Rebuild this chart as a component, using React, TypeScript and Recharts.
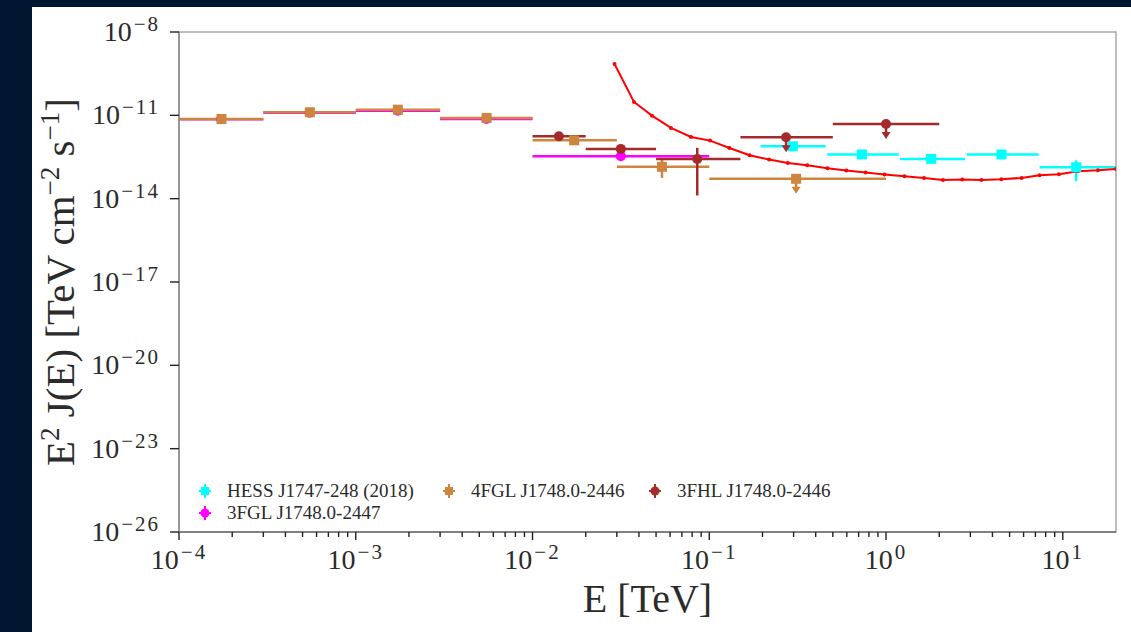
import {
  ScatterChart,
  Scatter,
  XAxis,
  YAxis,
  ErrorBar,
  ReferenceArea,
} from "recharts";

const serif = "'Liberation Serif', 'Times New Roman', serif";
const textColor = "#2b2b2b";

// HESS J1747-248 (2018)
const hessE = [0.297, 0.73, 1.8, 4.5, 11.9];
const hessELo = [0.195, 0.465, 1.2, 2.86, 7.4];
const hessEHi = [0.455, 1.18, 2.8, 7.3, 20];
const hessFlux = [7.7e-13, 3.9e-13, 2.7e-13, 3.9e-13, 1.35e-13];
const hessFluxLo = [7.7e-13, 3.9e-13, 2.7e-13, 3.9e-13, 4.3e-14];
const hessFluxHi = [7.7e-13, 3.9e-13, 2.7e-13, 3.9e-13, 2.4e-13];

// 4FGL J1748.0-2446
const fgl4E = [1.74e-4, 5.5e-4, 1.73e-3, 5.5e-3, 0.0172, 0.054, 0.31];
const fgl4ELo = [1e-4, 3e-4, 1e-3, 3e-3, 0.01, 0.03, 0.1];
const fgl4EHi = [3e-4, 1e-3, 3e-3, 0.01, 0.03, 0.1, 1.0];
const fgl4Flux = [7.4e-12, 1.29e-11, 1.6e-11, 8.1e-12, 1.26e-12, 1.4e-13, 5.2e-14];
const fgl4FluxLo = [7.4e-12, 1.29e-11, 1.6e-11, 8.1e-12, 1.26e-12, 5.6e-14, 5.2e-14];
const fgl4FluxHi = [7.4e-12, 1.29e-11, 1.6e-11, 8.1e-12, 1.26e-12, 2.6e-13, 5.2e-14];
const fgl4Ul = [false, false, false, false, false, false, true];

// 3FHL J1748.0-2446
const fhlE = [0.0141, 0.0316, 0.0855, 0.272, 1.0];
const fhlELo = [0.01, 0.02, 0.05, 0.15, 0.5];
const fhlEHi = [0.02, 0.05, 0.15, 0.5, 2.0];
const fhlFlux = [1.76e-12, 6.2e-13, 2.7e-13, 1.62e-12, 4.9e-12];
const fhlFluxLo = [1.76e-12, 6.2e-13, 1.3e-14, 1.62e-12, 4.9e-12];
const fhlFluxHi = [1.76e-12, 6.2e-13, 6.8e-13, 1.62e-12, 4.9e-12];
const fhlUl = [false, false, false, true, true];

// 3FGL J1748.0-2447
const fgl3E = [1.73e-4, 5.48e-4, 1.73e-3, 5.48e-3, 0.0316];
const fgl3ELo = [1e-4, 3e-4, 1e-3, 3e-3, 0.01];
const fgl3EHi = [3e-4, 1e-3, 3e-3, 0.01, 0.1];
const fgl3Flux = [7.2e-12, 1.25e-11, 1.47e-11, 7.45e-12, 3.4e-13];

// sensitivity curve
const sensE = [
  0.0291, 0.0375, 0.0474, 0.0607, 0.0788, 0.101, 0.13, 0.169, 0.218, 0.278,
  0.358, 0.466, 0.596, 0.766, 0.98, 1.27, 1.64, 2.1, 2.7, 3.46, 4.49, 5.84,
  7.39, 9.51, 12.2, 15.8, 20.0,
];
const sensFlux = [
  7.06e-10, 3.03e-11, 9.75e-12, 3.52e-12, 1.67e-12, 1.23e-12, 6.7e-13,
  3.64e-13, 2.55e-13, 1.94e-13, 1.59e-13, 1.24e-13, 1.03e-13, 8.7e-14, 7.4e-14,
  6.4e-14, 5.6e-14, 4.74e-14, 4.86e-14, 4.74e-14, 4.99e-14, 5.6e-14, 6.95e-14,
  7.55e-14, 9.7e-14, 1.05e-13, 1.18e-13,
];

const xMajor = [1e-4, 1e-3, 1e-2, 1e-1, 1, 10];
const xMinorMult = [2, 3, 4, 5, 6, 7, 8, 9];
const yTicks = [1e-26, 1e-23, 1e-20, 1e-17, 1e-14, 1e-11, 1e-8];

const xTicks = xMajor
  .flatMap((d) => [d, ...xMinorMult.map((m) => m * d)])
  .filter((v) => v < 20);

function build(
  e: number[],
  lo: number[],
  hi: number[],
  f: number[],
  fLo?: number[],
  fHi?: number[],
  ul?: boolean[],
) {
  return e.map((x, i) => ({
    x,
    y: f[i],
    xErr: [x - lo[i], hi[i] - x],
    yErr: [f[i] - (fLo ? fLo[i] : f[i]), (fHi ? fHi[i] : f[i]) - f[i]],
    ul: ul ? ul[i] : false,
  }));
}

const hessData = build(hessE, hessELo, hessEHi, hessFlux, hessFluxLo, hessFluxHi);
const fgl4Data = build(fgl4E, fgl4ELo, fgl4EHi, fgl4Flux, fgl4FluxLo, fgl4FluxHi, fgl4Ul);
const fhlData = build(fhlE, fhlELo, fhlEHi, fhlFlux, fhlFluxLo, fhlFluxHi, fhlUl);
const fgl3Data = build(fgl3E, fgl3ELo, fgl3EHi, fgl3Flux);
const sensData = sensE.map((x, i) => ({ x, y: sensFlux[i] }));

function exponent(v: number) {
  return Math.round(Math.log10(v));
}

function expText(e: number) {
  return e < 0 ? `\u2212${-e}` : `${e}`;
}

function XTick(props: any) {
  const { x, y, payload } = props;
  const v = payload.value;
  const e = exponent(v);
  const major = Math.abs(Math.log10(v) - e) < 1e-6;
  return (
    <g>
      <line x1={x} x2={x} y1={y} y2={y + (major ? 8 : 5)} stroke="#222" strokeWidth={1.4} />
      {major ? (
        <text x={x} y={y + 37} textAnchor="middle" fontFamily={serif} fontSize={28} fill={textColor}>
          10
          <tspan dx={2} dy={-10} fontSize={21} letterSpacing={2}>
            {expText(e)}
          </tspan>
        </text>
      ) : null}
    </g>
  );
}

function YTick(props: any) {
  const { x, y, payload } = props;
  const e = exponent(payload.value);
  return (
    <g>
      <line x1={x - 9} x2={x} y1={y} y2={y} stroke="#222" strokeWidth={1.4} />
      <text x={x - 19} y={y + 9} textAnchor="end" fontFamily={serif} fontSize={28} fill={textColor}>
        10
        <tspan dx={2} dy={-10} fontSize={21} letterSpacing={2}>
          {expText(e)}
        </tspan>
      </text>
    </g>
  );
}

function makeShape(color: string, kind: "square" | "circle") {
  return (props: any) => {
    const { cx, cy, payload } = props;
    if (cx == null || cy == null) return <g />;
    return (
      <g>
        {payload.ul ? (
          <g>
            <line x1={cx} x2={cx} y1={cy} y2={cy + 9} stroke={color} strokeWidth={2.5} />
            <polygon points={`${cx - 4.5},${cy + 8} ${cx + 4.5},${cy + 8} ${cx},${cy + 15}`} fill={color} />
          </g>
        ) : null}
        {kind === "square" ? (
          <rect x={cx - 5} y={cy - 5} width={10} height={10} fill={color} />
        ) : (
          <circle cx={cx} cy={cy} r={5} fill={color} />
        )}
      </g>
    );
  };
}

const sensDot = (props: any) => {
  const { cx, cy } = props;
  if (cx == null || cy == null) return <g />;
  return <circle cx={cx} cy={cy} r={2} fill="#ff0000" />;
};

const legendItems = [
  { name: "HESS J1747-248 (2018)", color: "#00ffff", kind: "square", left: 192, top: 480 },
  { name: "4FGL J1748.0-2446", color: "#cd853f", kind: "square", left: 436, top: 480 },
  { name: "3FHL J1748.0-2446", color: "#a52a2a", kind: "circle", left: 642, top: 480 },
  { name: "3FGL J1748.0-2447", color: "#ff00ff", kind: "circle", left: 192, top: 502 },
];

function LegendMarker({ color, kind }: { color: string; kind: string }) {
  return (
    <svg width={26} height={22} style={{ display: "block" }}>
      <line x1={7} x2={19} y1={11} y2={11} stroke={color} strokeWidth={2} />
      <line x1={13} x2={13} y1={4} y2={18} stroke={color} strokeWidth={2} />
      {kind === "square" ? (
        <rect x={9} y={7} width={8} height={8} fill={color} />
      ) : (
        <circle cx={13} cy={11} r={4.5} fill={color} />
      )}
    </svg>
  );
}

function XTitle(props: any) {
  const { viewBox } = props;
  return (
    <text
      x={viewBox.x + viewBox.width / 2}
      y={viewBox.y + 80}
      textAnchor="middle"
      fontFamily={serif}
      fontSize={40}
      fill={textColor}
    >
      E [TeV]
    </text>
  );
}

function YTitle(props: any) {
  const { viewBox } = props;
  const cx = viewBox.x + 74;
  const cy = viewBox.y + viewBox.height / 2;
  return (
    <text
      x={cx}
      y={cy}
      transform={`rotate(-90, ${cx}, ${cy})`}
      textAnchor="middle"
      fontFamily={serif}
      fontSize={41}
      fill={textColor}
    >
      E
      <tspan dy={-15} fontSize={27}>2</tspan>
      <tspan dy={15}> J(E) [TeV cm</tspan>
      <tspan dy={-15} fontSize={27}>{"\u22122"}</tspan>
      <tspan dy={15}> s</tspan>
      <tspan dy={-15} fontSize={27}>{"\u22121"}</tspan>
      <tspan dy={15}>]</tspan>
    </text>
  );
}

export default function App() {
  return (
    <div style={{ width: 1131, height: 632, background: "#011630", position: "relative", overflow: "hidden" }}>
      <style>{`body{margin:0}`}</style>
      <div style={{ position: "absolute", left: 32, top: 7, width: 1099, height: 625, background: "#ffffff" }} />
      <div style={{ position: "absolute", left: 0, top: 0 }}>
        <ScatterChart width={1131} height={632} margin={{ top: 32, right: 15, bottom: 0, left: 0 }}>
          <XAxis
            type="number"
            dataKey="x"
            scale="log"
            domain={[1e-4, 20]}
            allowDataOverflow
            ticks={xTicks}
            interval={0}
            tick={<XTick />}
            tickLine={false}
            tickSize={0}
            tickMargin={0}
            height={100}
            axisLine={{ stroke: "#6e6e6e", strokeWidth: 1.5 }}
            label={<XTitle />}
          />
          <YAxis
            type="number"
            dataKey="y"
            scale="log"
            domain={[1e-26, 1e-8]}
            allowDataOverflow
            ticks={yTicks}
            interval={0}
            tick={<YTick />}
            tickLine={false}
            tickSize={0}
            tickMargin={0}
            width={179}
            axisLine={{ stroke: "#8a8a8a", strokeWidth: 1.5 }}
            label={<YTitle />}
          />
          <ReferenceArea
            x1={1e-4}
            x2={20}
            y1={1e-26}
            y2={1e-8}
            fill="none"
            stroke="#a8a8a8"
            strokeWidth={1.5}
            ifOverflow="visible"
          />
          <Scatter
            name="sensitivity"
            data={sensData}
            line={{ stroke: "#ff0000", strokeWidth: 2 }}
            shape={sensDot}
            fill="#ff0000"
            isAnimationActive={false}
          />
          <Scatter
            name="3FGL J1748.0-2447"
            data={fgl3Data}
            fill="#ff00ff"
            shape={makeShape("#ff00ff", "circle")}
            isAnimationActive={false}
          >
            <ErrorBar dataKey="xErr" direction="x" width={0} stroke="#ff00ff" strokeWidth={2.5} />
          </Scatter>
          <Scatter
            name="4FGL J1748.0-2446"
            data={fgl4Data}
            fill="#cd853f"
            shape={makeShape("#cd853f", "square")}
            isAnimationActive={false}
          >
            <ErrorBar dataKey="xErr" direction="x" width={0} stroke="#cd853f" strokeWidth={2.5} />
            <ErrorBar dataKey="yErr" direction="y" width={0} stroke="#cd853f" strokeWidth={2.5} />
          </Scatter>
          <Scatter
            name="HESS J1747-248 (2018)"
            data={hessData}
            fill="#00ffff"
            shape={makeShape("#00ffff", "square")}
            isAnimationActive={false}
          >
            <ErrorBar dataKey="xErr" direction="x" width={0} stroke="#00ffff" strokeWidth={2.5} />
            <ErrorBar dataKey="yErr" direction="y" width={0} stroke="#00ffff" strokeWidth={2.5} />
          </Scatter>
          <Scatter
            name="3FHL J1748.0-2446"
            data={fhlData}
            fill="#a52a2a"
            shape={makeShape("#a52a2a", "circle")}
            isAnimationActive={false}
          >
            <ErrorBar dataKey="xErr" direction="x" width={0} stroke="#a52a2a" strokeWidth={2.5} />
            <ErrorBar dataKey="yErr" direction="y" width={0} stroke="#a52a2a" strokeWidth={2.5} />
          </Scatter>
        </ScatterChart>
      </div>
      {legendItems.map((item) => (
        <div
          key={item.name}
          style={{
            position: "absolute",
            left: item.left,
            top: item.top,
            display: "flex",
            alignItems: "center",
            fontFamily: serif,
            fontSize: 19,
            color: textColor,
            whiteSpace: "nowrap",
          }}
        >
          <LegendMarker color={item.color} kind={item.kind} />
          <span style={{ marginLeft: 9 }}>{item.name}</span>
        </div>
      ))}
    </div>
  );
}
